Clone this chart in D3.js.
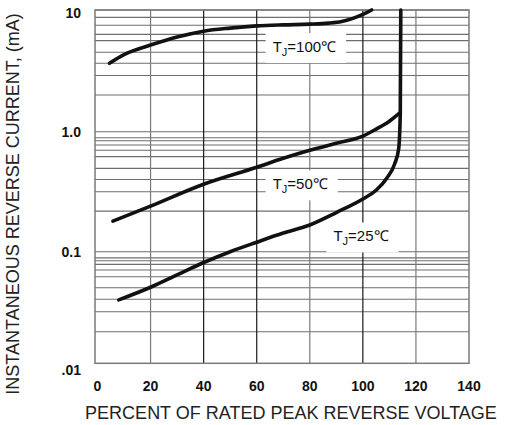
<!DOCTYPE html>
<html>
<head>
<meta charset="utf-8">
<script src="https://cdn.jsdelivr.net/npm/d3@7"></script>
<style>
  html, body { margin: 0; padding: 0; background: #fff; }
  svg { display: block; }
</style>
</head>
<body>
<svg id="chart" width="507" height="425"></svg>
<script>
// ---- data ----
const xTicks = [0, 20, 40, 60, 80, 100, 120, 140];
const yTickValues = [10, 1, 0.1, 0.01];
const yTickLabels = ["10", "1.0", "0.1", ".01"];
// horizontal grid lines as printed (per decade)
const yGridValues = [
  10, 8.7, 7.5, 6.3, 5.6, 4.5, 3.65, 2.9, 2.0,
  1, 0.89, 0.84, 0.775, 0.70, 0.62, 0.495, 0.40, 0.316, 0.218,
  0.1, 0.088, 0.083, 0.077, 0.0686, 0.0597, 0.0476, 0.0375, 0.029, 0.0192
];
const xGridValues = [20, 40, 60, 80, 100, 120];
const xGridDark = [40, 60, 100];

const pct100 = [4.5, 10, 20, 30, 40, 50, 60, 70, 80, 87, 92, 96, 100, 103.3];
const val100 = [3.65, 4.3, 5.15, 6.0, 6.7, 7.1, 7.4, 7.55, 7.65, 7.8, 8.05, 8.5, 9.2, 10];

const pct50 = [5.8, 20, 40, 60, 70, 80, 90, 100, 105, 110, 113.8];
const val50 = [0.18, 0.24, 0.365, 0.505, 0.6, 0.7, 0.8, 0.92, 1.05, 1.22, 1.42];

const pct25 = [8, 20, 30, 40, 50, 60, 70, 80, 90, 100, 105, 109, 112, 113.5, 114.1, 114.3];
const val25 = [0.037, 0.048, 0.062, 0.08, 0.1, 0.12, 0.143, 0.167, 0.212, 0.275, 0.325, 0.41, 0.54, 0.72, 1.4, 10];

// ---- layout ----
const svg = d3.select("#chart");
const plotLeft = 95, plotRight = 469, plotTop = 10, plotBottom = 363.3;

const x = d3.scaleLinear().domain([0, 140]).range([97.5, plotRight]);
// log axis drawn decade by decade as in the printed grid
const yLin = d3.scaleLinear().domain([-2, -1, 0, 1]).range([plotBottom, 251.7, 131.7, plotTop]);
const y = v => yLin(Math.log10(v));

const grid = svg.append("g");
grid.selectAll("line.h").data(yGridValues).join("line")
  .attr("x1", plotLeft).attr("x2", plotRight)
  .attr("y1", d => y(d)).attr("y2", d => y(d))
  .attr("stroke", "#6e6e6e").attr("stroke-width", 1.1);
grid.selectAll("line.v").data(xGridValues).join("line")
  .attr("x1", d => x(d)).attr("x2", d => x(d))
  .attr("y1", plotTop).attr("y2", plotBottom)
  .attr("stroke", d => xGridDark.includes(d) ? "#1a1a1a" : "#7a7a7a")
  .attr("stroke-width", 1.2);
grid.append("rect")
  .attr("x", plotLeft).attr("y", plotTop)
  .attr("width", plotRight - plotLeft).attr("height", plotBottom - plotTop)
  .attr("fill", "none").attr("stroke", "#7a7a7a").attr("stroke-width", 1.5);

// ---- curve labels (with white boxes) ----
const labelLayer = svg.append("g");
const curveLayer = svg.append("g");
const textLayer = svg.append("g");
const labels = [
  {t: "100", px: 66, v: 5.0},
  {t: "50", px: 66, v: 0.367},
  {t: "25", px: 88.9, v: 0.135}
];
labels.forEach(L => {
  const tx = textLayer.append("text")
    .attr("x", x(L.px)).attr("y", y(L.v))
    .attr("dy", "0.36em")
    .attr("font-family", "Liberation Sans, Arial, sans-serif")
    .attr("font-size", 15).attr("fill", "#111");
  tx.append("tspan").text("T");
  tx.append("tspan").attr("font-size", 11).attr("dy", 4).text("J");
  tx.append("tspan").attr("dy", -4).text("=" + L.t + "\u2103");
  const b = tx.node().getBBox();
  labelLayer.append("rect")
    .attr("x", b.x - 7).attr("y", b.y - 5)
    .attr("width", b.width + 17).attr("height", b.height + 10)
    .attr("fill", "#fff");
});

// ---- curves ----
const line = d3.line()
  .x(d => x(d[0])).y(d => y(d[1]))
  .curve(d3.curveMonotoneX);
const series = [d3.zip(pct100, val100), d3.zip(pct50, val50), d3.zip(pct25, val25)];
curveLayer.selectAll("path").data(series).join("path")
  .attr("d", line)
  .attr("fill", "none").attr("stroke", "#111")
  .attr("stroke-width", 3.6).attr("stroke-linecap", "round").attr("stroke-linejoin", "round");

// ---- tick labels ----
svg.append("g").selectAll("text").data(xTicks).join("text")
  .attr("x", d => x(d)).attr("y", 386).attr("dy", "0.36em")
  .attr("text-anchor", "middle")
  .attr("font-family", "Liberation Sans, Arial, sans-serif")
  .attr("font-weight", "bold").attr("font-size", 14).attr("fill", "#111")
  .text(d => d);

svg.append("g").selectAll("text").data(yTickValues).join("text")
  .attr("x", 81)
  .attr("y", (d, i) => y(d) + (i === 0 ? 3 : i === yTickValues.length - 1 ? 7 : 0))
  .attr("dy", "0.36em")
  .attr("text-anchor", "end")
  .attr("font-family", "Liberation Sans, Arial, sans-serif")
  .attr("font-weight", "bold").attr("font-size", 14).attr("fill", "#111")
  .text((d, i) => yTickLabels[i]);

// ---- axis titles ----
svg.append("text")
  .attr("x", 291).attr("y", 413).attr("dy", "0.36em")
  .attr("text-anchor", "middle")
  .attr("font-family", "Liberation Sans, Arial, sans-serif")
  .attr("font-size", 18).attr("fill", "#222")
  .text("PERCENT OF RATED PEAK REVERSE VOLTAGE");

svg.append("text")
  .attr("transform", "translate(13,204) rotate(-90)")
  .attr("dy", "0.36em")
  .attr("text-anchor", "middle")
  .attr("font-family", "Liberation Sans, Arial, sans-serif")
  .attr("font-size", 18).attr("fill", "#222")
  .text("INSTANTANEOUS REVERSE CURRENT, (mA)");
</script>
</body>
</html>
